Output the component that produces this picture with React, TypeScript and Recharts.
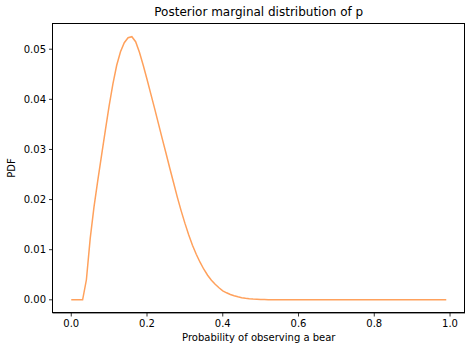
import React from "react";
import { LineChart, Line, XAxis, YAxis } from "recharts";

const probs: number[] = Array.from({ length: 100 }, (_, i) => i / 100);

const pdfValues: number[] = [
  0, 0, 0, 0, 0.004, 0.0122, 0.0185, 0.0238, 0.0288, 0.0338,
  0.0387, 0.0431, 0.0468, 0.0495, 0.0513, 0.0523, 0.0525, 0.0515, 0.0494, 0.0468,
  0.044, 0.0411, 0.0382, 0.0352, 0.0322, 0.0293, 0.0263, 0.0234, 0.0205, 0.0178,
  0.0153, 0.013, 0.0109, 0.0091, 0.0075, 0.0061, 0.0049, 0.0039, 0.0031, 0.0024,
  0.0018, 0.0014, 0.00105, 0.0008, 0.0006, 0.00043, 0.0003, 0.0002, 0.00014, 0.0001,
  0.00006, 0.00004, 0.00002, 0.00001, 0, 0, 0, 0, 0, 0,
  0, 0, 0, 0, 0, 0, 0, 0, 0, 0,
  0, 0, 0, 0, 0, 0, 0, 0, 0, 0,
  0, 0, 0, 0, 0, 0, 0, 0, 0, 0,
  0, 0, 0, 0, 0, 0, 0, 0, 0, 0,
];

const xTicks: number[] = [0, 0.2, 0.4, 0.6, 0.8, 1.0];
const yTicks: number[] = [0, 0.01, 0.02, 0.03, 0.04, 0.05];

const title = "Posterior marginal distribution of p";
const xLabel = "Probability of observing a bear";
const yLabel = "PDF";

const data = probs.map((p, i) => ({ p, v: pdfValues[i] }));

const font = "'DejaVu Sans', sans-serif";
const tickStyle = { fontSize: 10, fill: "#000", fontFamily: font };

export default function App() {
  return (
    <div style={{ position: "absolute", left: 0, top: 0, width: 472, height: 352, background: "#fff" }}>
      <LineChart
        width={472}
        height={352}
        data={data}
        margin={{ top: 23, right: 7, bottom: 0, left: 0 }}
      >
        <XAxis
          dataKey="p"
          type="number"
          domain={[-0.0495, 1.0395]}
          allowDataOverflow
          ticks={xTicks}
          tickFormatter={(v: number) => v.toFixed(1)}
          tick={tickStyle}
          tickSize={3.5}
          tickMargin={3}
          height={39}
          axisLine={{ stroke: "#000", strokeWidth: 0.8 }}
          tickLine={{ stroke: "#000", strokeWidth: 0.8 }}
        />
        <YAxis
          type="number"
          domain={[-0.00263, 0.05523]}
          allowDataOverflow
          ticks={yTicks}
          tickFormatter={(v: number) => v.toFixed(2)}
          tick={tickStyle}
          tickSize={3.5}
          tickMargin={3}
          width={52.5}
          axisLine={{ stroke: "#000", strokeWidth: 0.8 }}
          tickLine={{ stroke: "#000", strokeWidth: 0.8 }}
        />
        <Line
          type="linear"
          dataKey="v"
          stroke="#ffa15c"
          strokeWidth={1.5}
          dot={false}
          isAnimationActive={false}
        />
      </LineChart>
      <div
        style={{
          position: "absolute",
          left: 52.1,
          top: 22.6,
          width: 412.9,
          height: 290.4,
          boxSizing: "border-box",
          border: "0.8px solid #000",
          pointerEvents: "none",
        }}
      />
      <div
        style={{
          position: "absolute",
          left: 52.5,
          width: 412.5,
          top: 5,
          textAlign: "center",
          fontFamily: font,
          fontSize: 12,
          color: "#000",
          lineHeight: "14px",
        }}
      >
        {title}
      </div>
      <div
        style={{
          position: "absolute",
          left: 52.5,
          width: 412.5,
          top: 332,
          textAlign: "center",
          fontFamily: font,
          fontSize: 10,
          color: "#000",
          lineHeight: "12px",
        }}
      >
        {xLabel}
      </div>
      <div
        style={{
          position: "absolute",
          left: 12,
          top: 168,
          transform: "translate(-50%, -50%) rotate(-90deg)",
          fontFamily: font,
          fontSize: 10,
          color: "#000",
          lineHeight: "12px",
          whiteSpace: "nowrap",
        }}
      >
        {yLabel}
      </div>
    </div>
  );
}
